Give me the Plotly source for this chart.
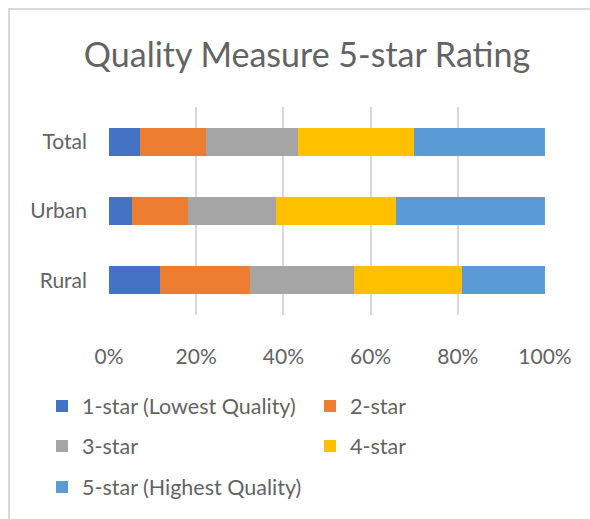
import plotly.graph_objects as go

categories = ["Rural", "Urban", "Total"]
series_names = ["1-star (Lowest Quality)", "2-star", "3-star", "4-star", "5-star (Highest Quality)"]
star1 = [11.7, 5.2, 7.0]
star2 = [20.7, 12.9, 15.2]
star3 = [23.8, 20.2, 21.2]
star4 = [24.8, 27.6, 26.6]
star5 = [19.0, 34.1, 30.0]
colors = ["#4472C4", "#ED7D31", "#A5A5A5", "#FFC000", "#5B9BD5"]
tick_vals = [0, 20, 40, 60, 80, 100]
tick_text = ["0%", "20%", "40%", "60%", "80%", "100%"]

values = [star1, star2, star3, star4, star5]
legend_ids = ["legend", "legend", "legend2", "legend2", "legend3"]

FONT = "Lato"
TXT = "#636363"

fig = go.Figure()
for name, vals, col, lg in zip(series_names, values, colors, legend_ids):
    fig.add_trace(go.Bar(
        y=categories, x=vals, name=name, orientation="h",
        marker=dict(color=col, line=dict(width=0)),
        legend=lg, hoverinfo="x+y+name",
    ))

W, H = 590, 519
L, R, T, B = 109, 45, 107, 204
pw = W - L - R
ph = H - T - B

def px_x(p):
    return (p - L) / pw

def px_y(p):
    return (H - B - p) / ph

leg_common = dict(orientation="h", xanchor="left", yanchor="middle",
                  traceorder="normal",
                  font=dict(family=FONT, size=21.5, color=TXT),
                  bgcolor="rgba(0,0,0,0)", entrywidth=223, entrywidthmode="pixels",
                  itemclick=False, itemdoubleclick=False)

fig.update_layout(
    width=W, height=H,
    margin=dict(l=L, r=R, t=T, b=B, pad=0),
    barmode="stack", bargap=0.6,
    plot_bgcolor="white", paper_bgcolor="white",
    font=dict(family=FONT, color=TXT),
    title=dict(text="Quality Measure 5-star Rating", x=307 / W, xanchor="center",
               y=1 - 55 / H, yanchor="middle",
               font=dict(family=FONT, size=34, color=TXT)),
    xaxis=dict(range=[0, 100], tickvals=tick_vals, ticktext=tick_text,
               showgrid=True, gridcolor="#D9D9D9", gridwidth=1.5,
               zeroline=False, showline=False, ticks="",
               ticklabelstandoff=27,
               tickfont=dict(family=FONT, size=21, color=TXT), fixedrange=True),
    yaxis=dict(categoryorder="array", categoryarray=categories,
               showgrid=False, zeroline=False, showline=False, ticks="",
               ticklabelstandoff=21,
               tickfont=dict(family=FONT, size=21, color=TXT), fixedrange=True),
    legend=dict(x=px_x(42), y=px_y(406), **leg_common),
    legend2=dict(x=px_x(42), y=px_y(446), **leg_common),
    legend3=dict(x=px_x(42), y=px_y(487), **leg_common),
    showlegend=True,
)

fig.add_shape(type="rect", xref="paper", yref="paper",
              x0=px_x(9), x1=px_x(620), y0=px_y(9), y1=px_y(560),
              line=dict(color="#D9D9D9", width=2), fillcolor="rgba(0,0,0,0)", layer="below")

fig.write_html("out.html", config={"displayModeBar": False},
               post_script="document.body.style.margin='0';document.body.style.overflow='hidden';")
